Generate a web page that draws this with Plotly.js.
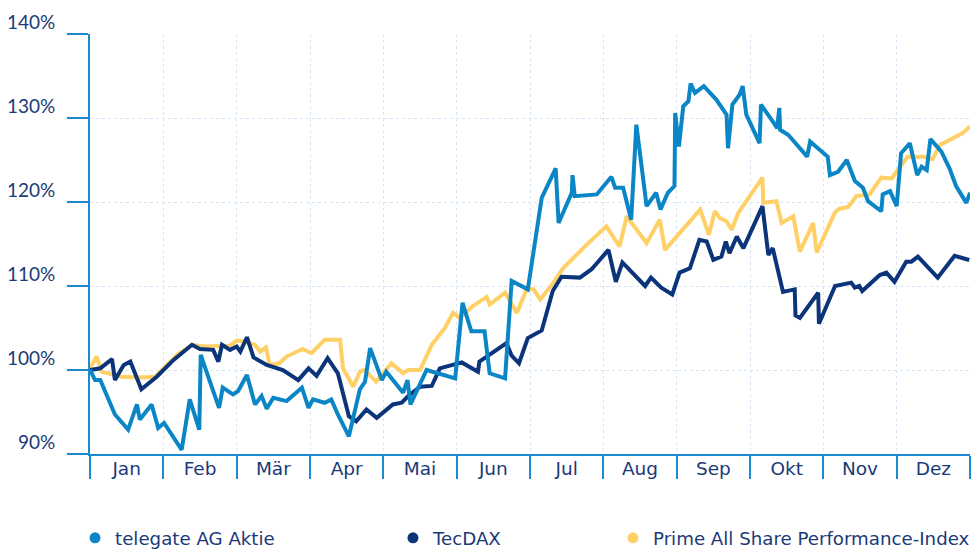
<!DOCTYPE html>
<html>
<head>
<meta charset="utf-8">
<script src="https://cdn.plot.ly/plotly-3.0.1.min.js"></script>
<style>
html,body{margin:0;padding:0;background:#fff;}
#chart{width:979px;height:552px;}
</style>
</head>
<body>
<div id="chart"></div>
<script>
// Month position: 0 = start of Jan, 12 = end of Dez
const monthLabels = ['Jan','Feb','Mär','Apr','Mai','Jun','Jul','Aug','Sep','Okt','Nov','Dez'];
const yTickVals = [90,100,110,120,130,140];
const yTickText = ['90%','100%','110%','120%','130%','140%'];

const telegateX = [0.00,0.07,0.14,0.23,0.34,0.52,0.64,0.68,0.84,0.93,1.01,1.25,1.36,1.49,1.51,1.64,1.76,1.81,1.95,2.02,2.14,2.25,2.34,2.41,2.50,2.68,2.89,2.98,3.04,3.20,3.29,3.38,3.53,3.68,3.75,3.82,3.98,4.04,4.27,4.33,4.37,4.59,4.98,5.08,5.20,5.38,5.45,5.66,5.75,5.97,6.16,6.35,6.39,6.57,6.58,6.61,6.91,7.11,7.16,7.27,7.38,7.45,7.59,7.72,7.78,7.88,7.97,7.98,8.03,8.09,8.16,8.19,8.25,8.37,8.54,8.68,8.70,8.76,8.86,8.90,8.95,9.13,9.15,9.34,9.37,9.40,9.41,9.52,9.78,9.82,9.95,10.06,10.09,10.20,10.32,10.43,10.54,10.61,10.79,10.81,10.91,11.00,11.06,11.18,11.28,11.34,11.41,11.46,11.61,11.72,11.81,11.95,12.00];
const telegateY = [100.0,98.8,98.8,96.9,94.7,92.9,95.9,94.1,95.9,93.1,93.7,90.5,96.5,92.9,101.8,98.5,95.5,97.9,97.1,97.5,99.4,95.9,96.9,95.4,96.7,96.3,97.9,95.5,96.5,96.1,96.5,94.7,92.1,97.7,98.6,102.6,98.8,99.8,97.3,98.8,95.9,100.0,99.0,108.0,104.6,104.6,99.6,99.0,110.6,109.6,120.5,124.0,117.5,121.1,123.2,120.7,120.9,123.0,121.7,121.7,117.9,129.2,119.5,121.1,119.1,121.1,121.9,130.6,126.6,131.4,132.0,134.1,133.0,133.8,132.2,130.4,126.4,131.6,132.8,133.8,130.4,127.0,131.6,129.2,128.8,131.2,128.6,128.0,125.4,127.2,126.2,125.4,123.2,123.6,125.0,122.5,121.7,120.1,118.9,120.9,121.3,119.5,125.8,127.0,123.2,124.2,123.8,127.5,126.0,124.0,121.9,119.9,121.1];

const tecdaxX = [0.00,0.14,0.30,0.34,0.46,0.55,0.70,0.91,1.14,1.39,1.50,1.68,1.75,1.80,1.91,2.00,2.05,2.14,2.23,2.41,2.63,2.84,2.98,3.09,3.24,3.38,3.53,3.63,3.77,3.91,4.13,4.25,4.34,4.50,4.66,4.77,5.07,5.29,5.31,5.50,5.68,5.75,5.85,5.97,6.16,6.31,6.43,6.68,6.84,7.07,7.17,7.26,7.43,7.57,7.65,7.79,7.94,8.04,8.18,8.31,8.41,8.50,8.61,8.67,8.72,8.82,8.91,9.17,9.25,9.31,9.45,9.61,9.62,9.68,9.93,9.94,10.16,10.38,10.43,10.49,10.53,10.77,10.86,10.97,11.13,11.20,11.29,11.56,11.79,11.99];
const tecdaxY = [100.0,100.2,101.3,98.8,100.6,101.0,97.7,99.2,101.2,103.0,102.5,102.4,101.0,103.0,102.4,102.8,102.2,103.9,101.5,100.6,100.0,98.8,100.2,99.3,101.4,99.6,94.5,93.9,95.3,94.3,95.9,96.1,96.9,98.0,98.1,100.2,100.9,99.8,101.0,102.2,103.2,101.7,100.8,103.8,104.7,109.4,111.1,111.0,112.0,114.3,110.5,112.8,111.3,110.0,111.0,109.8,109.0,111.6,112.1,115.5,115.3,113.1,113.5,115.3,113.9,115.9,114.5,119.5,113.7,114.5,109.3,109.6,106.5,106.2,109.2,105.5,110.0,110.4,109.8,110.0,109.4,111.3,111.6,110.5,112.9,112.9,113.5,111.0,113.6,113.1];

const primeX = [0.00,0.09,0.16,0.43,0.68,0.89,1.05,1.20,1.40,1.54,1.91,2.00,2.09,2.25,2.32,2.40,2.45,2.58,2.68,2.90,3.02,3.20,3.41,3.45,3.59,3.68,3.75,3.90,4.11,4.27,4.34,4.50,4.66,4.84,4.95,5.04,5.22,5.41,5.45,5.66,5.82,5.96,6.05,6.14,6.32,6.45,6.77,7.04,7.22,7.32,7.59,7.77,7.84,8.20,8.32,8.44,8.52,8.59,8.68,8.75,8.84,9.17,9.18,9.36,9.43,9.59,9.68,9.86,9.91,10.16,10.22,10.34,10.45,10.63,10.79,10.93,11.15,11.36,11.49,11.59,11.77,11.90,12.00];
const primeY = [100.2,101.6,99.8,99.2,99.1,99.2,100.6,101.9,103.0,102.8,102.9,103.5,103.4,103.0,102.2,102.7,100.6,100.8,101.6,102.5,102.0,103.6,103.6,100.2,98.0,99.8,100.0,98.6,100.8,99.6,100.0,100.0,103.0,105.0,106.8,106.2,107.6,108.7,107.8,109.2,106.8,109.7,109.6,108.4,110.4,112.1,114.9,117.1,114.7,118.3,115.1,117.9,114.3,117.9,119.1,116.1,118.9,118.1,117.7,116.7,118.7,122.9,119.9,120.1,117.5,118.3,114.1,117.5,114.0,118.8,119.2,119.4,120.7,120.9,122.9,122.8,125.4,125.4,125.1,126.8,127.6,128.2,129.0];

const seriesNames = ['telegate AG Aktie','TecDAX','Prime All Share Performance-Index'];
const seriesColors = ['#0a86c6','#0c347a','#ffd066'];

const textColor = '#1b3a78';
const axisColor = '#1b8ad3';
const gridColor = '#d3e5f5';
const fontFam = '"DejaVu Sans", "Noto Sans", sans-serif';
const yFontFam = 'Lato, "Noto Sans", sans-serif';

const lineData = [[telegateX,telegateY],[tecdaxX,tecdaxY],[primeX,primeY]];
const order = [2,1,0];
const traces = [];
order.forEach(i => {
  traces.push({
    x: lineData[i][0], y: lineData[i][1], type:'scatter', mode:'lines',
    line:{color:seriesColors[i], width:4}, showlegend:false, hoverinfo:'skip'
  });
});
const legendIds = ['legend','legend2','legend3'];
seriesNames.forEach((n,i) => {
  traces.push({
    x:[null], y:[null], type:'scatter', mode:'markers', name:n,
    marker:{color:seriesColors[i], size:11, symbol:'circle'},
    legend: legendIds[i], showlegend:true
  });
});
// invisible trace to bind xaxis2 (month labels)
traces.push({x:[0,12], y:[null,null], xaxis:'x2', yaxis:'y', mode:'lines', showlegend:false, hoverinfo:'skip'});

const tickBounds = monthLabels.map((m,i)=>i).concat([12]);
const monthCenters = monthLabels.map((m,i)=>i+0.5);

const legFont = {family:fontFam, size:18.2, color:textColor};
function leg(x){ return {orientation:'h', x:x, y:-0.2, xanchor:'left', yanchor:'middle', font:legFont, bgcolor:'rgba(0,0,0,0)', itemclick:false, itemdoubleclick:false}; }

const layout = {
  width:979, height:552,
  margin:{l:90, r:9, t:34, b:98, autoexpand:false},
  paper_bgcolor:'#fff', plot_bgcolor:'#fff',
  font:{family:fontFam, color:textColor},
  showlegend:true,
  legend: leg(-0.017),
  legend2: leg(0.3443),
  legend3: leg(0.5943),
  xaxis:{
    range:[0,12], tickvals:tickBounds, showticklabels:false,
    ticks:'outside', ticklen:23, tickwidth:2, tickcolor:axisColor,
    showline:true, linecolor:axisColor, linewidth:2,
    showgrid:true, gridcolor:gridColor, griddash:'dot', gridwidth:1,
    zeroline:false, fixedrange:true, automargin:false
  },
  xaxis2:{
    range:[0,12], overlaying:'x', anchor:'y', side:'bottom',
    tickvals:monthCenters, ticktext:monthLabels, ticks:'', showline:false, showgrid:false, zeroline:false,
    tickfont:{family:fontFam, size:18.5, color:textColor}, ticklabelstandoff:1, automargin:false
  },
  yaxis:{
    range:[90,140], tickvals:yTickVals, ticktext:yTickText,
    ticks:'outside', ticklen:21, tickwidth:2, tickcolor:axisColor,
    showline:true, linecolor:axisColor, linewidth:2,
    showgrid:true, gridcolor:gridColor, griddash:'dot', gridwidth:1,
    zeroline:false, fixedrange:true, automargin:false,
    tickfont:{family:yFontFam, size:19, color:textColor},
    ticklabelshift:-12, ticklabelstandoff:8
  }
};

Plotly.newPlot('chart', traces, layout, {displayModeBar:false, staticPlot:true});
</script>
</body>
</html>
